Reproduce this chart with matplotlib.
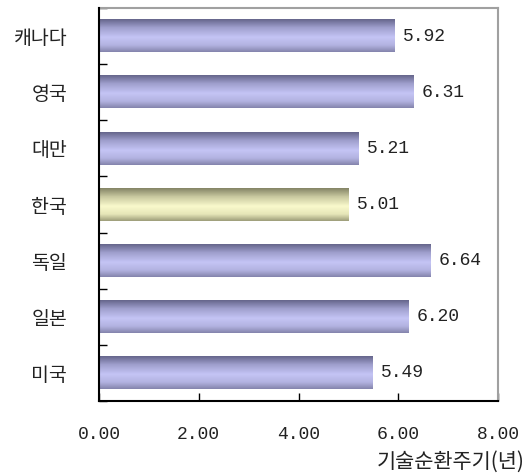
import numpy as np
import matplotlib
matplotlib.use("Agg")
import matplotlib.pyplot as plt
from matplotlib.colors import LinearSegmentedColormap

plt.rcParams['font.family'] = ['Noto Sans CJK KR', 'DejaVu Sans']

categories = ['미국', '일본', '독일', '한국', '대만', '영국', '캐나다']
values = [5.49, 6.20, 6.64, 5.01, 5.21, 6.31, 5.92]
highlight = '한국'
xticks = [0, 2, 4, 6, 8]
xlabel = '기술순환주기(년)'

NUMFONT = 'Liberation Mono'

fig = plt.figure(figsize=(5.32, 4.75), dpi=100)
ax = fig.add_axes([99/532, 1-401/475, (498-99)/532, (401-8)/475])

y = np.arange(len(categories))
bars = ax.barh(y, values, height=0.58, color='none', edgecolor='none')

blue = LinearSegmentedColormap.from_list('b', [
    (0.0, (0.40, 0.40, 0.55)), (0.25, (0.62, 0.62, 0.80)),
    (0.55, (0.77, 0.77, 0.96)), (0.8, (0.70, 0.70, 0.88)), (1.0, (0.52, 0.52, 0.68))])
yellow = LinearSegmentedColormap.from_list('y', [
    (0.0, (0.52, 0.52, 0.40)), (0.25, (0.78, 0.78, 0.62)),
    (0.55, (0.98, 0.98, 0.80)), (0.8, (0.90, 0.90, 0.72)), (1.0, (0.62, 0.62, 0.48))])
grad = np.linspace(0, 1, 64).reshape(-1, 1)
for cat, b in zip(categories, bars):
    x0, y0, w, h = b.get_x(), b.get_y(), b.get_width(), b.get_height()
    cmap = yellow if cat == highlight else blue
    ax.imshow(grad, cmap=cmap, aspect='auto', extent=(x0, x0 + w, y0, y0 + h),
              origin='upper', zorder=2, interpolation='bilinear')

for cat, v, yi in zip(categories, values, y):
    ax.annotate(f'{v:.2f}', xy=(v, yi), xytext=(6, 0), textcoords='offset points',
                va='center', ha='left', fontsize=13, family=NUMFONT, color='#222222')

ax.set_xlim(0, 8)
ax.set_ylim(-0.5, len(categories) - 0.5)

ax.set_xticks(xticks)
ax.set_xticklabels([f'{t:.2f}' for t in xticks], family=NUMFONT, fontsize=13, color='#222222')
ax.tick_params(axis='x', direction='in', length=6, width=1, pad=18)

ax.set_yticks(np.arange(-0.5, len(categories), 1))
ax.set_yticklabels([])
ax.tick_params(axis='y', which='major', direction='in', length=6, width=1)
ax.set_yticks(y, minor=True)
ax.set_yticklabels(categories, minor=True, fontsize=14, color='#222222')
ax.tick_params(axis='y', which='minor', length=0, pad=23)

for s in ['left', 'bottom']:
    ax.spines[s].set_color('black')
    ax.spines[s].set_linewidth(1.5)
    ax.spines[s].set_zorder(3)
for s in ['top', 'right']:
    ax.spines[s].set_color('#a0a0a0')
    ax.spines[s].set_linewidth(1.5)

fig.text(525/532, 1-462/475, xlabel, ha='right', va='center', fontsize=15, color='#222222')

fig.savefig('out.png', dpi=100)
